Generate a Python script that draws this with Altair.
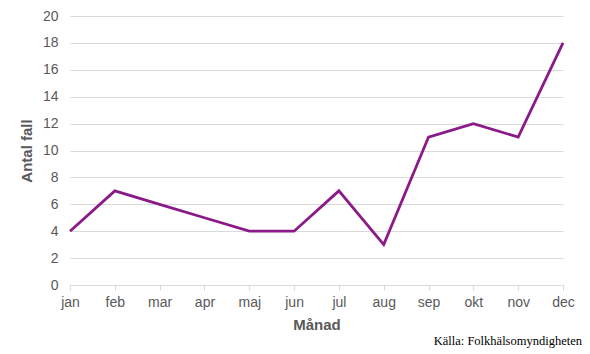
import altair as alt
import pandas as pd

months = ["jan", "feb", "mar", "apr", "maj", "jun", "jul", "aug", "sep", "okt", "nov", "dec"]
cases = [4, 7, 6, 5, 4, 4, 7, 3, 11, 12, 11, 18]
source_text = "Källa: Folkhälsomyndigheten"

df = pd.DataFrame({"Månad": months, "Antal fall": cases})

FONT = "Liberation Sans"
GRAY = "#595959"

line = alt.Chart(df).mark_line(color="#8B1A89", strokeWidth=2.8).encode(
    x=alt.X("Månad:N", sort=months,
            scale=alt.Scale(type="point", padding=0),
            axis=alt.Axis(title="Månad", labelAngle=0, labelFont=FONT, labelFontSize=14,
                          labelColor=GRAY, labelPadding=5, titleFont=FONT, titleFontSize=15,
                          titleFontWeight="bold", titleColor=GRAY, titlePadding=8,
                          domainColor="#d9d9d9", tickColor="#d9d9d9", tickSize=5,
                          grid=False)),
    y=alt.Y("Antal fall:Q", scale=alt.Scale(domain=[0, 20]),
            axis=alt.Axis(title="Antal fall", values=list(range(0, 21, 2)), labelFont=FONT,
                          labelFontSize=14, labelColor=GRAY, labelPadding=12,
                          titleFont=FONT, titleFontSize=15, titleFontWeight="bold",
                          titleColor=GRAY, titlePadding=8, domain=False, ticks=False,
                          gridColor="#d9d9d9", gridWidth=1)),
)

src = alt.Chart(pd.DataFrame({"t": [source_text]})).mark_text(
    font="Liberation Serif", fontSize=12.5, color="#000000", align="right", baseline="middle"
).encode(text="t:N", x=alt.value(512), y=alt.value(325))

chart = alt.layer(line, src).properties(
    width=493, height=269,
    autosize=alt.AutoSizeParams(type="none"),
    padding={"left": 70, "top": 16, "right": 27, "bottom": 69},
).configure_view(stroke=None)

chart.save("out.html", embed_options={"renderer": "svg", "actions": False})
